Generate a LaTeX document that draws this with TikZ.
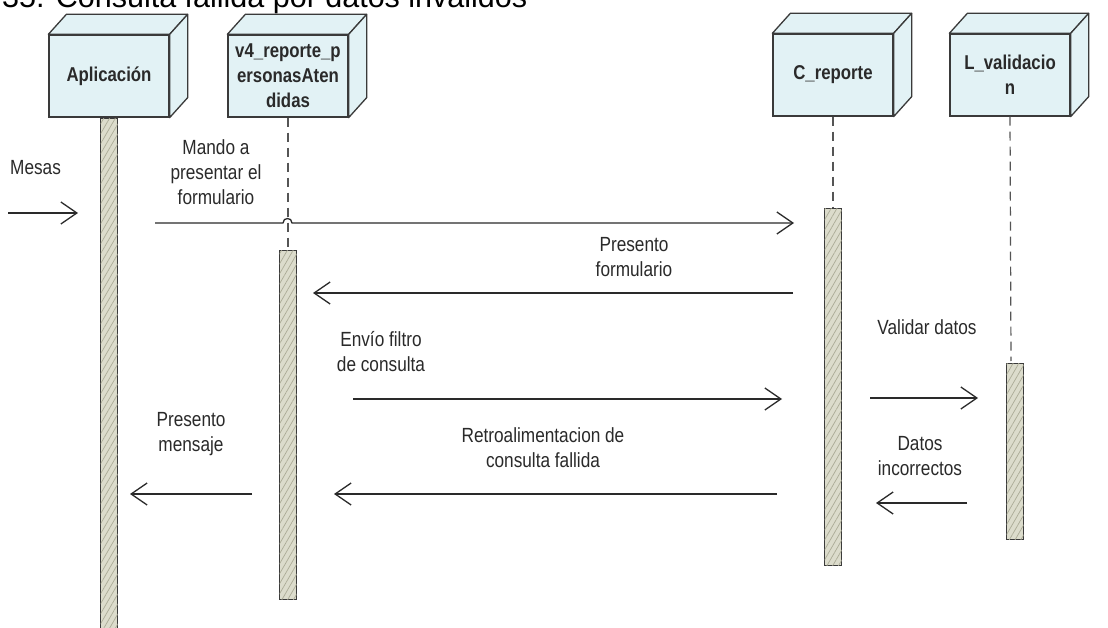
\documentclass[tikz,border=0pt]{standalone}
\usepackage{fontspec}
\setmainfont{Liberation Sans}[FakeStretch=0.84]
\newfontfamily\titlefont{Liberation Sans}
\usetikzlibrary{arrows.meta,patterns.meta}
\definecolor{boxfill}{HTML}{E2F2F5}
\definecolor{boxline}{HTML}{3A3A3A}
\definecolor{barfill}{HTML}{DCDCCC}
\definecolor{hatch}{HTML}{ABAB96}
\definecolor{ink}{HTML}{2A2A2A}
\tikzset{
  objbox/.style={draw=boxline, fill=boxfill, line width=1.3pt, minimum width=120pt, minimum height=82pt, inner sep=0pt, align=center, font=\fontsize{20}{25}\selectfont\bfseries, text=ink},
  actbar/.style={draw=boxline, line width=1.2pt, fill=barfill, minimum width=17pt, inner sep=0pt,
     postaction={pattern={Lines[angle=60,distance=5pt,line width=0.7pt]}, pattern color=hatch}},
  lifeline/.style={draw=ink!80, line width=1.2pt, dash pattern=on 9pt off 6pt},
  msg/.style={draw=ink, line width=1.3pt, -{Straight Barb[length=16pt,width=22pt,line width=1.3pt]}},
  lbl/.style={font=\fontsize{20.5}{25}\selectfont, text=ink, align=center, inner sep=0pt},
  face/.style={draw=boxline, fill=boxfill, line width=1.3pt, line join=round}
}
\newcommand{\cubeface}[1]{%
  \draw[face] (#1.north west) -- ++(18,-20) -- ([shift={(18,-20)}]#1.north east) -- (#1.north east) -- cycle;
  \draw[face] (#1.north east) -- ([shift={(18,-20)}]#1.north east) -- ([shift={(18,-20)}]#1.south east) -- (#1.south east) -- cycle;}
\begin{document}
\begin{tikzpicture}[x=1pt,y=-1pt]
\useasboundingbox (0,0) rectangle (1108,628);
\clip (0,0) rectangle (1108,628);
\fill[white] (0,0) rectangle (1108,628);
% title (clipped at top, as in the reference)
\node[anchor=base west, inner sep=0pt, font=\titlefont\fontsize{30.5}{36}\selectfont, text=black] (title) at (2,8) {35. Consulta fallida por datos inválidos};
% objects
\node[objbox] (app) at (109,76) {Aplicación};
\node[objbox] (v4) at (288,76) {v4\_reporte\_p\\ersonasAten\\didas};
\node[objbox] (crep) at (833,75) {C\_reporte};
\node[objbox] (lval) at (1010,75) {L\_validacio\\n};
\cubeface{app}
\cubeface{v4}
\cubeface{crep}
\cubeface{lval}
% activation bars
\node[actbar, anchor=north, minimum height=520pt] (appbar) at (app.south) {};
\node[actbar, anchor=north, minimum height=349pt] (v4bar) at (288,250) {};
\node[actbar, anchor=north, minimum height=357pt] (crepbar) at (833,208) {};
\node[actbar, anchor=north, minimum height=176pt] (lvalbar) at (1015,363) {};
% lifelines
\draw[lifeline] (v4.south) -- (v4bar.north);
\draw[lifeline] (crep.south) -- (crepbar.north);
\draw[lifeline] (lval.south) -- (1011,361);
% messages
\coordinate (m0a) at (8,213);  \coordinate (m0b) at (78,213);
\draw[msg] (m0a) -- (m0b);
\node[lbl, anchor=west] (l0) at (10,168) {Mesas};

\coordinate (m1a) at (155,223); \coordinate (m1b) at (794,223);
\draw[msg] (m1a) -- (283,223) .. controls (283,217) and (292,217) .. (292,223) -- (m1b);
\node[lbl] (l1) at (216,172) {Mando a\\presentar el\\formulario};

\coordinate (m2a) at (793,293); \coordinate (m2b) at (313,293);
\draw[msg] (m2a) -- (m2b);
\node[lbl] (l2) at (634,257) {Presento\\formulario};

\coordinate (m3a) at (353,399); \coordinate (m3b) at (782,399);
\draw[msg] (m3a) -- (m3b);
\node[lbl] (l3) at (381,352) {Envío filtro\\de consulta};

\coordinate (m4a) at (870,398); \coordinate (m4b) at (978,398);
\draw[msg] (m4a) -- (m4b);
\node[lbl] (l4) at (927,327) {Validar datos};

\coordinate (m5a) at (967,503); \coordinate (m5b) at (876,503);
\draw[msg] (m5a) -- (m5b);
\node[lbl] (l5) at (920,456) {Datos\\incorrectos};

\coordinate (m6a) at (777,494); \coordinate (m6b) at (334,494);
\draw[msg] (m6a) -- (m6b);
\node[lbl] (l6) at (543,448) {Retroalimentacion de\\consulta fallida};

\coordinate (m7a) at (252,494); \coordinate (m7b) at (130,494);
\draw[msg] (m7a) -- (m7b);
\node[lbl] (l7) at (191,434) {Presento\\mensaje};
\end{tikzpicture}
\end{document}
